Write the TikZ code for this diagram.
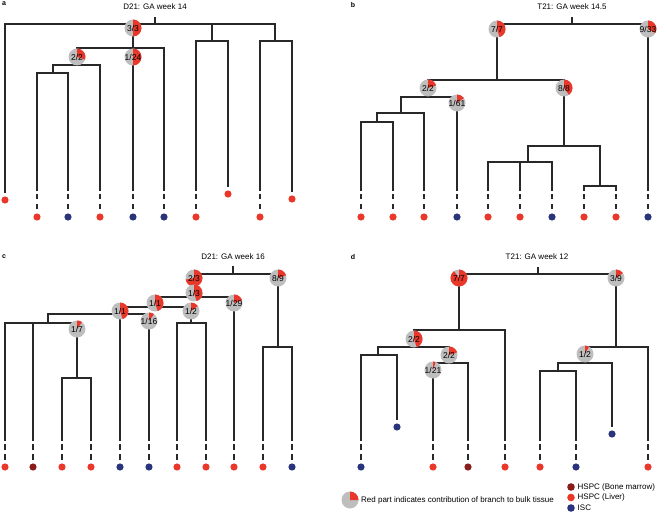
\documentclass[tikz,border=0pt]{standalone}
\usepackage{fontspec}
\setmainfont{Liberation Sans}
\definecolor{pred}{RGB}{233,56,42}
\definecolor{pdark}{RGB}{139,28,28}
\definecolor{pblue}{RGB}{42,52,125}
\definecolor{pgray}{RGB}{190,190,190}
\definecolor{linec}{RGB}{40,40,40}
\tikzset{
  br/.style={line width=1.2pt, draw=linec},
  dotn/.style={circle, fill=#1, inner sep=0pt, minimum size=7.2pt, outer sep=0pt},
  pielabel/.style={font=\fontsize{8.5}{9}\selectfont, inner sep=0pt, text=black},
  ttl/.style={font=\fontsize{8}{9}\selectfont, inner sep=0pt},
  letter/.style={font=\fontsize{7}{8}\selectfont\bfseries, inner sep=0pt},
  legtext/.style={font=\fontsize{8}{9}\selectfont, inner sep=0pt, anchor=west},
  dashleaf/.style={br, dash pattern=on 0pt off 3pt on 5.5pt off 4.5pt on 5.5pt off 40pt}
}
\newcommand{\piechart}[3]{%
  \fill[pgray] (#1) circle[radius=8.5];
  \fill[pred] (#1) -- ++(-90:8.5) arc[start angle=-90, delta angle={360*#2}, radius=8.5] -- cycle;
  \node[pielabel] (#1-l) at (#1) {#3};
}
\newcommand{\dleaf}[4]{%
  \coordinate (#1) at (#2,{191+#3});
  \node[dotn=#4] (#1-d) at (#2,{217+#3}) {};
  \draw[dashleaf] (#1) -- (#1-d);
}
\newcommand{\sleaf}[4]{%
  \node[dotn=#4, outer sep=3.8pt] (#1) at (#2,#3) {};
}
\begin{document}
\begin{tikzpicture}[x=1pt,y=-1pt]
\useasboundingbox (0,0) rectangle (667,513);

% ---------------- titles ----------------
\node[letter] (la) at (4,4) {a};
\node[letter] (lb) at (353,5) {b};
\node[letter] (lc) at (4,257) {c};
\node[letter] (ld) at (353,257) {d};
\node[ttl] (ta) at (155,7) {D21: GA week 14};
\node[ttl] (tb) at (572,7) {T21: GA week 14.5};
\node[ttl] (tc) at (233,257) {D21: GA week 16};
\node[ttl] (td) at (537,257) {T21: GA week 12};

% ---------------- panel a ----------------
\coordinate (aRt) at (155,17); \coordinate (aRb) at (155,24);
\coordinate (a33) at (133,28); \coordinate (a33b) at (133,48);
\coordinate (a22) at (77,57); \coordinate (a22b) at (77,65);
\coordinate (aJ1b) at (53,73);
\coordinate (a124) at (133,57);
\coordinate (aJ3b) at (212,41); \coordinate (aJ4b) at (275,41);
\sleaf{aL1}{5}{200}{pred}
\dleaf{aL2}{37}{0}{pred}
\dleaf{aL3}{68}{0}{pblue}
\dleaf{aL4}{100}{0}{pred}
\dleaf{aL5}{133}{0}{pblue}
\dleaf{aL6}{164}{0}{pblue}
\dleaf{aL7}{196}{0}{pred}
\sleaf{aL8}{228}{194}{pred}
\dleaf{aL9}{260}{0}{pred}
\sleaf{aL10}{292}{199}{pred}
\draw[br] (aRt) -- (aRb);
\draw[br] (aRb) -| (aL1);
\draw[br] (aRb) -| (a33);
\draw[br] (aRb) -| (aJ3b);
\draw[br] (aRb) -| (aJ4b);
\draw[br] (a33) -- (a33b);
\draw[br] (a33b) -| (a22);
\draw[br] (a33b) -| (a124);
\draw[br] (a33b) -| (aL6);
\draw[br] (a22) -- (a22b);
\draw[br] (a22b) -| (aJ1b);
\draw[br] (a22b) -| (aL4);
\draw[br] (aJ1b) -| (aL2);
\draw[br] (aJ1b) -| (aL3);
\draw[br] (a124) -- (aL5);
\draw[br] (aJ3b) -| (aL7);
\draw[br] (aJ3b) -| (aL8);
\draw[br] (aJ4b) -| (aL9);
\draw[br] (aJ4b) -| (aL10);
\piechart{a33}{0.5}{3/3}
\piechart{a22}{0.3}{2/2}
\piechart{a124}{0.5}{1/24}

% ---------------- panel b ----------------
\coordinate (bRt) at (572,17); \coordinate (bRb) at (572,24);
\coordinate (b77) at (497,29); \coordinate (b77b) at (497,80);
\coordinate (b933) at (648,29);
\coordinate (b22) at (428,88); \coordinate (b22b) at (428,97);
\coordinate (b88) at (564,88); \coordinate (b88b) at (564,146);
\coordinate (bJ1b) at (401,113); \coordinate (bJ2b) at (377,122);
\coordinate (b161) at (457,103);
\coordinate (bJ3b) at (528,162); \coordinate (bJ4b) at (600,186);
\dleaf{bL1}{361}{0}{pred}
\dleaf{bL2}{393}{0}{pred}
\dleaf{bL3}{424}{0}{pred}
\dleaf{bL4}{457}{0}{pblue}
\dleaf{bL5}{488}{0}{pred}
\dleaf{bL6}{520}{0}{pred}
\dleaf{bL7}{552}{0}{pblue}
\dleaf{bL8}{584}{0}{pred}
\dleaf{bL9}{616}{0}{pred}
\dleaf{bL10}{648}{0}{pblue}
\draw[br] (bRt) -- (bRb);
\draw[br] (bRb) -| (b77);
\draw[br] (bRb) -| (b933);
\draw[br] (b77) -- (b77b);
\draw[br] (b77b) -| (b22);
\draw[br] (b77b) -| (b88);
\draw[br] (b22) -- (b22b);
\draw[br] (b22b) -| (bJ1b);
\draw[br] (b22b) -| (b161);
\draw[br] (bJ1b) -| (bJ2b);
\draw[br] (bJ1b) -| (bL3);
\draw[br] (bJ2b) -| (bL1);
\draw[br] (bJ2b) -| (bL2);
\draw[br] (b161) -- (bL4);
\draw[br] (b88) -- (b88b);
\draw[br] (b88b) -| (bJ3b);
\draw[br] (b88b) -| (bJ4b);
\draw[br] (bJ3b) -| (bL5);
\draw[br] (bJ3b) -| (bL6);
\draw[br] (bJ3b) -| (bL7);
\draw[br] (bJ4b) -| (bL8);
\draw[br] (bJ4b) -| (bL9);
\draw[br] (b933) -- (bL10);
\piechart{b77}{0.45}{7/7}
\piechart{b933}{0.33}{9/33}
\piechart{b22}{0.2}{2/2}
\piechart{b88}{0.4}{8/8}
\piechart{b161}{0.15}{1/61}

% ---------------- panel c ----------------
\coordinate (cRt) at (233,266); \coordinate (cRb) at (233,274);
\coordinate (c23) at (194,278);
\coordinate (c89) at (278,278); \coordinate (c89b) at (278,347);
\coordinate (c13) at (194,293); \coordinate (c13b) at (194,297);
\coordinate (c11u) at (155,303); \coordinate (c11ub) at (155,307);
\coordinate (c129) at (234,303);
\coordinate (c11l) at (120,311); \coordinate (c11lb) at (120,314);
\coordinate (c12) at (191,311); \coordinate (c12b) at (191,323);
\coordinate (c116) at (149,321);
\coordinate (cJ1b) at (48,323);
\coordinate (c17) at (77,329); \coordinate (c17b) at (77,378);
\dleaf{cL1}{5}{250}{pred}
\dleaf{cL2}{33}{250}{pdark}
\dleaf{cL3}{62}{250}{pred}
\dleaf{cL4}{91}{250}{pred}
\dleaf{cL5}{120}{250}{pblue}
\dleaf{cL6}{149}{250}{pblue}
\dleaf{cL7}{177}{250}{pred}
\dleaf{cL8}{206}{250}{pred}
\dleaf{cL9}{234}{250}{pred}
\dleaf{cL10}{263}{250}{pred}
\dleaf{cL11}{292}{250}{pblue}
\draw[br] (cRt) -- (cRb);
\draw[br] (cRb) -| (c23);
\draw[br] (cRb) -| (c89);
\draw[br] (c23) -- (c13);
\draw[br] (c13) -- (c13b);
\draw[br] (c13b) -| (c11u);
\draw[br] (c13b) -| (c129);
\draw[br] (c11u) -- (c11ub);
\draw[br] (c11ub) -| (c11l);
\draw[br] (c11ub) -| (c12);
\draw[br] (c11l) -- (c11lb);
\draw[br] (c11lb) -| (cJ1b);
\draw[br] (c11lb) -- (cL5);
\draw[br] (c11lb) -| (c116);
\draw[br] (cJ1b) -| (cL1);
\draw[br] (cJ1b) -| (cL2);
\draw[br] (cJ1b) -| (c17);
\draw[br] (c17) -- (c17b);
\draw[br] (c17b) -| (cL3);
\draw[br] (c17b) -| (cL4);
\draw[br] (c116) -- (cL6);
\draw[br] (c12) -- (c12b);
\draw[br] (c12b) -| (cL7);
\draw[br] (c12b) -| (cL8);
\draw[br] (c129) -- (cL9);
\draw[br] (c89) -- (c89b);
\draw[br] (c89b) -| (cL10);
\draw[br] (c89b) -| (cL11);
\piechart{c23}{0.72}{2/3}
\piechart{c89}{0.2}{8/9}
\piechart{c13}{0.45}{1/3}
\piechart{c11u}{0.45}{1/1}
\piechart{c129}{0.2}{1/29}
\piechart{c11l}{0.45}{1/1}
\piechart{c12}{0.15}{1/2}
\piechart{c116}{0.1}{1/16}
\piechart{c17}{0.1}{1/7}

% ---------------- panel d ----------------
\coordinate (dRt) at (538,267); \coordinate (dRb) at (538,274);
\coordinate (d77) at (459,278); \coordinate (d77b) at (459,330);
\coordinate (d39) at (616,278); \coordinate (d39b) at (616,347);
\coordinate (d22a) at (414,339); \coordinate (d22ab) at (414,347);
\coordinate (dJ1b) at (378,355);
\coordinate (d22b) at (449,355); \coordinate (d22bb) at (449,363);
\coordinate (d121) at (433,370);
\coordinate (d12) at (585,354); \coordinate (d12b) at (585,363);
\coordinate (dJ2b) at (558,371);
\dleaf{dL1}{361}{250}{pblue}
\sleaf{dL2}{397}{427}{pblue}
\dleaf{dL3}{433}{250}{pred}
\dleaf{dL4}{468}{250}{pdark}
\dleaf{dL5}{505}{250}{pred}
\dleaf{dL6}{540}{250}{pred}
\dleaf{dL7}{576}{250}{pblue}
\sleaf{dL8}{612}{434}{pblue}
\dleaf{dL9}{648}{250}{pred}
\draw[br] (dRt) -- (dRb);
\draw[br] (dRb) -| (d77);
\draw[br] (dRb) -| (d39);
\draw[br] (d77) -- (d77b);
\draw[br] (d77b) -| (d22a);
\draw[br] (d77b) -| (dL5);
\draw[br] (d22a) -- (d22ab);
\draw[br] (d22ab) -| (dJ1b);
\draw[br] (d22ab) -| (d22b);
\draw[br] (dJ1b) -| (dL1);
\draw[br] (dJ1b) -| (dL2);
\draw[br] (d22b) -- (d22bb);
\draw[br] (d22bb) -| (d121);
\draw[br] (d22bb) -| (dL4);
\draw[br] (d121) -- (dL3);
\draw[br] (d39) -- (d39b);
\draw[br] (d39b) -| (d12);
\draw[br] (d39b) -| (dL9);
\draw[br] (d12) -- (d12b);
\draw[br] (d12b) -| (dJ2b);
\draw[br] (d12b) -| (dL8);
\draw[br] (dJ2b) -| (dL6);
\draw[br] (dJ2b) -| (dL7);
\piechart{d77}{0.9}{7/7}
\piechart{d39}{0.15}{3/9}
\piechart{d22a}{0.45}{2/2}
\piechart{d22b}{0.2}{2/2}
\piechart{d121}{0.05}{1/21}
\piechart{d12}{0.08}{1/2}

% ---------------- legend ----------------
\coordinate (lgp) at (350,500);
\piechart{lgp}{0.25}{}
\node[legtext] (lgt) at (361,500) {Red part indicates contribution of branch to bulk tissue};
\node[dotn=pdark, minimum size=7.6pt] (lg1) at (571,487) {};
\node[dotn=pred, minimum size=7.6pt] (lg2) at (571,497.5) {};
\node[dotn=pblue, minimum size=7.6pt] (lg3) at (571,508) {};
\node[legtext] (lg1t) at (577.5,487) {HSPC (Bone marrow)};
\node[legtext] (lg2t) at (577.5,497.5) {HSPC (Liver)};
\node[legtext] (lg3t) at (577.5,508) {ISC};
\end{tikzpicture}
\end{document}
